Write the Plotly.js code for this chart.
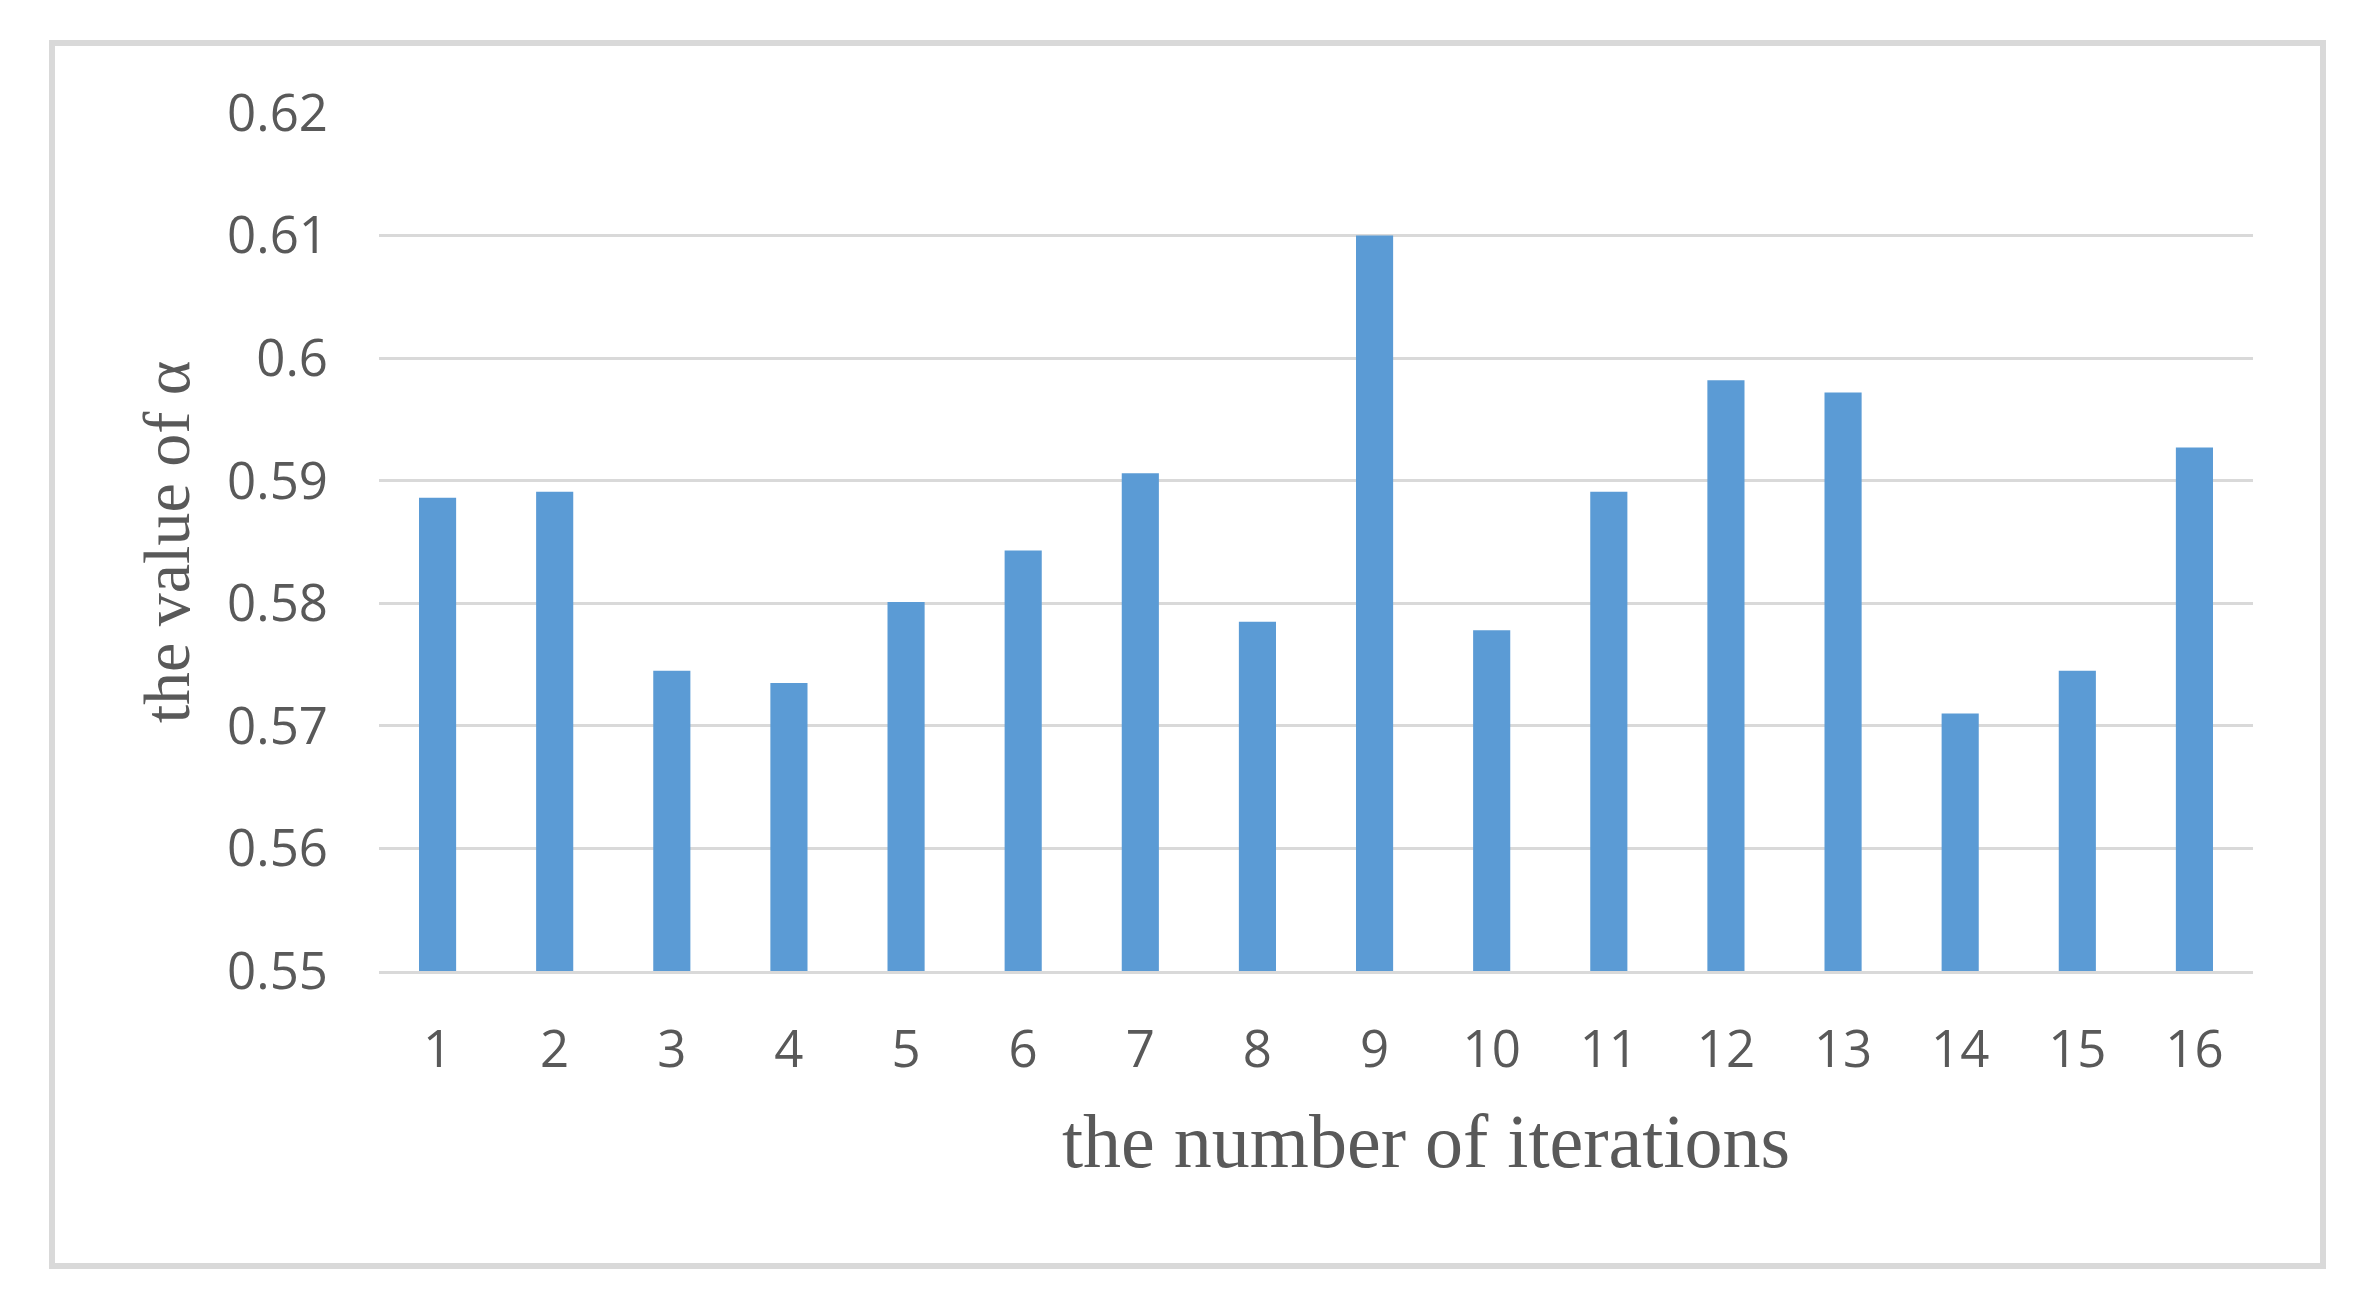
<!DOCTYPE html>
<html>
<head>
<meta charset="utf-8">
<script src="https://cdn.plot.ly/plotly-3.0.1.min.js"></script>
<style>
  html, body { margin: 0; padding: 0; background: #ffffff; }
  #chart { width: 2376px; height: 1307px; }
</style>
</head>
<body>
<div id="chart"></div>
<script>
// Data
const iterations = ["1","2","3","4","5","6","7","8","9","10","11","12","13","14","15","16"];
const alphaValues = [0.5886, 0.5891, 0.5745, 0.5735, 0.5801, 0.5843, 0.5906, 0.5785, 0.6100, 0.5778, 0.5891, 0.5982, 0.5972, 0.5710, 0.5745, 0.5927];
const yTicks = [0.55, 0.56, 0.57, 0.58, 0.59, 0.60, 0.61, 0.62];
const yTickLabels = ["0.55", "0.56", "0.57", "0.58", "0.59", "0.6", "0.61", "0.62"];
const xTitle = "the number of iterations";
const yTitle = "the value of α";

const W = 2376, H = 1307;
const margin = { l: 379, r: 123, t: 113, b: 336 };
const pw = W - margin.l - margin.r;
const ph = H - margin.t - margin.b;
const px2x = p => (p - margin.l) / pw;
const px2y = p => (H - margin.b - p) / ph;

const trace = {
  type: "bar",
  x: iterations,
  y: alphaValues,
  marker: { color: "#5b9bd5", line: { width: 0 } },
  hoverinfo: "x+y"
};

const tickFont = { family: "Open Sans, Roboto, sans-serif", size: 51, color: "#595959" };
const titleFont = { family: "Liberation Serif, 'Times New Roman', serif", color: "#595959" };

const layout = {
  width: W,
  height: H,
  margin: margin,
  paper_bgcolor: "#ffffff",
  plot_bgcolor: "#ffffff",
  showlegend: false,
  bargap: 0.683,
  xaxis: {
    type: "category",
    tickfont: tickFont,
    showgrid: false,
    showline: true,
    linecolor: "#d9d9d9",
    linewidth: 3,
    ticks: "",
    ticklabelstandoff: 32,
    zeroline: false
  },
  yaxis: {
    range: [0.55, 0.62],
    tickvals: yTicks,
    ticktext: yTickLabels,
    tickfont: tickFont,
    showgrid: true,
    gridcolor: "#d9d9d9",
    gridwidth: 3,
    zeroline: false,
    showline: false,
    ticks: "",
    ticklabelstandoff: 50,
    title: {
      text: yTitle,
      font: Object.assign({ size: 66 }, titleFont),
      standoff: 16
    }
  },
  annotations: [
    {
      text: xTitle,
      xref: "paper",
      yref: "paper",
      x: px2x(1426),
      y: px2y(1141),
      xanchor: "center",
      yanchor: "middle",
      showarrow: false,
      font: Object.assign({ size: 76 }, titleFont)
    }
  ],
  shapes: [
    {
      type: "rect",
      xref: "paper",
      yref: "paper",
      x0: px2x(52),
      x1: px2x(2323),
      y0: px2y(1266),
      y1: px2y(43),
      line: { color: "#d9d9d9", width: 6 },
      fillcolor: "rgba(0,0,0,0)",
      layer: "below"
    }
  ]
};

Plotly.newPlot("chart", [trace], layout, { displayModeBar: false, staticPlot: true });
</script>
</body>
</html>
